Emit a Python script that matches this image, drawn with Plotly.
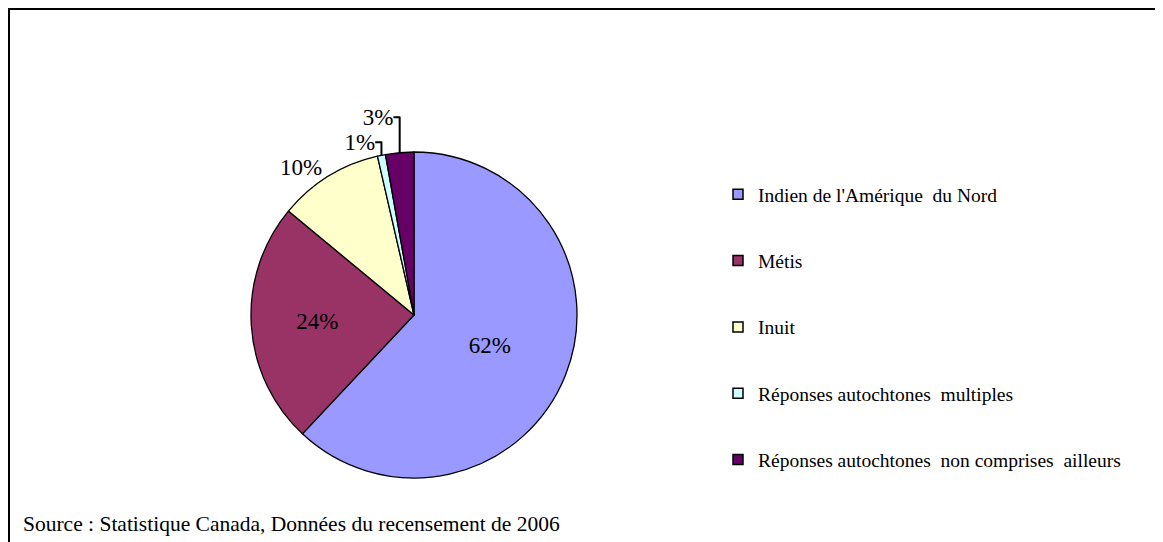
import plotly.graph_objects as go

categories = [
    "Indien de l'Amérique  du Nord",
    "Métis",
    "Inuit",
    "Réponses autochtones  multiples",
    "Réponses autochtones  non comprises  ailleurs",
]
values = [62.0, 24.0, 10.4, 0.8, 2.8]
colors = ["#9999FF", "#993366", "#FFFFCC", "#CCFFFF", "#660066"]
text_positions = ["inside", "inside", "outside", "outside", "outside"]
source_text = "Source : Statistique Canada, Données du recensement de 2006"

# the page body adds an 8px offset; figure coordinates are page coordinates minus 8
W, H = 1155, 534
FONT = "Liberation Serif"
cx, cy, r = 406, 307, 163

fig = go.Figure()

fig.add_trace(go.Pie(
    labels=categories,
    values=values,
    sort=False,
    direction="clockwise",
    rotation=0,
    marker=dict(colors=colors, line=dict(color="black", width=1.3)),
    texttemplate="%{percent:.0%}",
    textposition=text_positions,
    insidetextorientation="horizontal",
    textfont=dict(family=FONT, size=23, color="black"),
    showlegend=False,
    hoverinfo="label+percent",
    domain=dict(x=[(cx - r) / W, (cx + r) / W],
                y=[(H - cy - r) / H, (H - cy + r) / H]),
))

# legend entries (one group each for spacing)
for name, col in zip(categories, colors):
    fig.add_trace(go.Scatter(
        x=[None], y=[None], mode="markers", name=name,
        legendgroup=name,
        marker=dict(symbol="square", size=10, color=col,
                    line=dict(color="black", width=1.5)),
    ))

fig.update_layout(
    width=W, height=H,
    margin=dict(l=0, r=0, t=0, b=0),
    paper_bgcolor="white",
    plot_bgcolor="white",
    xaxis=dict(visible=False),
    yaxis=dict(visible=False),
    font=dict(family=FONT, color="black"),
    legend=dict(
        x=710 / W, xanchor="left",
        y=1 - 167 / H, yanchor="top",
        font=dict(family=FONT, size=19.5, color="black"),
        tracegroupgap=38,
        itemclick=False,
        bgcolor="rgba(0,0,0,0)",
    ),
    shapes=[dict(
        type="rect", xref="paper", yref="paper",
        x0=1 / W, y0=-0.1, x1=1.1, y1=1 - 1 / H,
        line=dict(color="black", width=2),
        fillcolor="rgba(0,0,0,0)",
    )],
    annotations=[dict(
        text=source_text, xref="paper", yref="paper",
        x=13 / W, y=1 - 516 / H, xanchor="left", yanchor="middle",
        showarrow=False, font=dict(family=FONT, size=21.5, color="black"),
    )],
)

fig.write_html("out.html")
